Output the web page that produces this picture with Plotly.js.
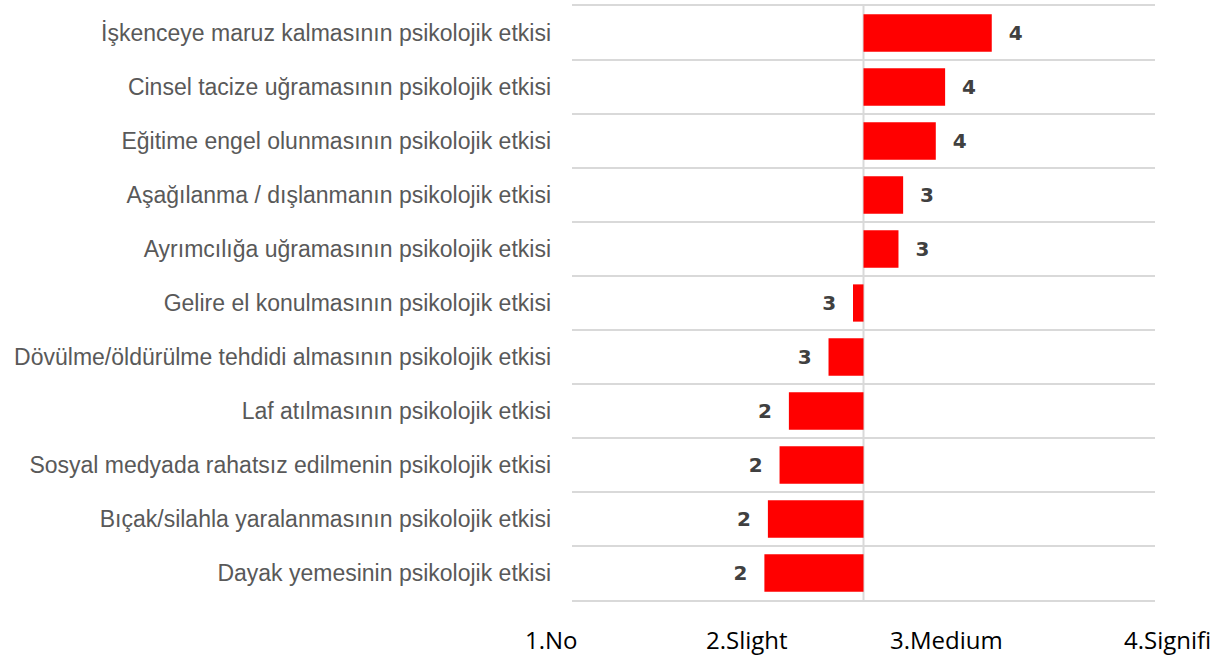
<!DOCTYPE html>
<html><head><meta charset="utf-8">
<script src="https://cdn.plot.ly/plotly-3.0.1.min.js"></script>
<style>html,body{margin:0;padding:0;background:#fff;}#chart{width:1231px;height:657px;}</style>
</head><body><div id="chart"></div>
<script>
// Categories, top to bottom
const categories = [
  "İşkenceye maruz kalmasının psikolojik etkisi",
  "Cinsel tacize uğramasının psikolojik etkisi",
  "Eğitime engel olunmasının psikolojik etkisi",
  "Aşağılanma / dışlanmanın psikolojik etkisi",
  "Ayrımcılığa uğramasının psikolojik etkisi",
  "Gelire el konulmasının psikolojik etkisi",
  "Dövülme/öldürülme tehdidi almasının psikolojik etkisi",
  "Laf atılmasının psikolojik etkisi",
  "Sosyal medyada rahatsız edilmenin psikolojik etkisi",
  "Bıçak/silahla yaralanmasının psikolojik etkisi",
  "Dayak yemesinin psikolojik etkisi"
];
// Mean scores
const scores = [4.10, 3.70, 3.62, 3.34, 3.30, 2.91, 2.70, 2.36, 2.28, 2.18, 2.15];
// Reference point from which bars are drawn
const midpoint = 3;
// Scale labels shown below the chart
const scaleLabels = ["1.No", "2.Slight", "3.Medium", "4.Signifi"];

const labelFont = "Liberation Sans, Arial, sans-serif";
const nb = "\u00a0\u00a0";
const texts = scores.map(v => {
  const r = String(Math.round(v));
  return v >= midpoint ? nb + r : r + nb;
});

const trace = {
  type: "bar",
  orientation: "h",
  y: categories,
  x: scores.map(v => v - midpoint),
  base: midpoint,
  marker: {color: "#ff0000"},
  text: texts,
  textposition: "outside",
  cliponaxis: false,
  textfont: {family: "DejaVu Sans, sans-serif", size: 20, color: "#404040", weight: 700},
  hoverinfo: "skip"
};

const labelX = [-0.036, 0.300, 0.643, 1.021];
const annotations = scaleLabels.map((t, i) => ({
  text: t, xref: "paper", yref: "paper", x: labelX[i], y: -0.067,
  xanchor: "center", yanchor: "middle", showarrow: false,
  font: {family: "Open Sans, sans-serif", size: 24, color: "#000000"}
}));

const layout = {
  width: 1231, height: 657,
  margin: {l: 572, r: 76, t: 6, b: 57, pad: 0},
  paper_bgcolor: "#ffffff", plot_bgcolor: "#ffffff",
  showlegend: false,
  bargap: 0.31,
  xaxis: {
    range: [0.5, 5.5], showgrid: false, zeroline: false, showticklabels: false,
    ticks: "", showline: true, mirror: true, linecolor: "#d9d9d9", linewidth: 2, fixedrange: true
  },
  yaxis: {
    type: "category", autorange: "reversed", tickson: "boundaries",
    showgrid: true, gridcolor: "#d9d9d9", gridwidth: 2, ticks: "",
    ticklabelstandoff: 20, showline: false, zeroline: false,
    tickfont: {family: labelFont, size: 23, color: "#595959"}, fixedrange: true
  },
  shapes: [{
    type: "line", xref: "x", yref: "paper", x0: midpoint, x1: midpoint, y0: 0, y1: 1,
    line: {color: "#d9d9d9", width: 2}, layer: "below"
  }],
  annotations: annotations
};

Plotly.newPlot("chart", [trace], layout, {displayModeBar: false, staticPlot: true});
</script>
</body></html>
